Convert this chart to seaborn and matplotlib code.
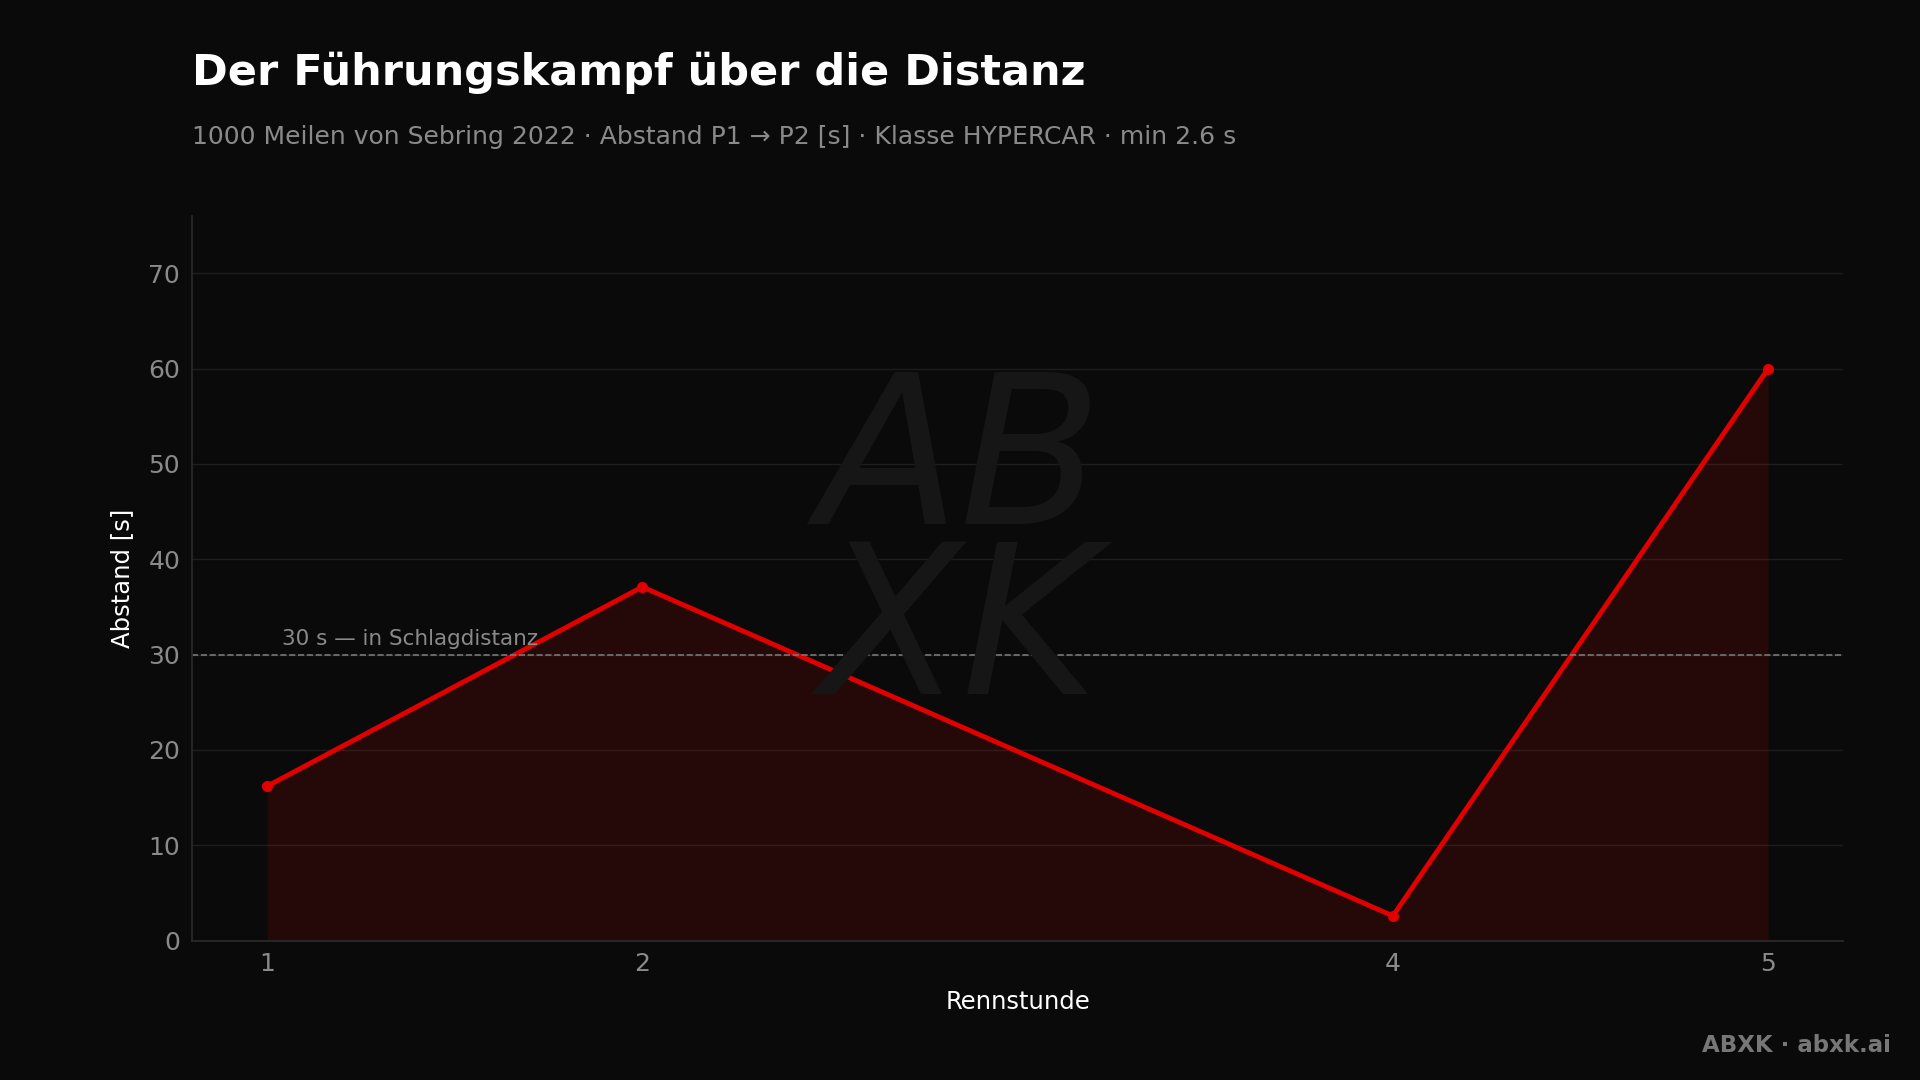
import matplotlib
matplotlib.use("Agg")
import matplotlib.pyplot as plt
import seaborn as sns
import pandas as pd

hours = [1, 2, 4, 5]
gap = [16.2, 37.1, 2.6, 60.0]
threshold = 30
df = pd.DataFrame({"Rennstunde": hours, "Abstand": gap})

sns.set_theme(style="dark")
plt.rcParams["font.family"] = ["DejaVu Sans"]

bg = "#0a0a0a"
fig = plt.figure(figsize=(19.2, 10.8), dpi=100, facecolor=bg)
ax = fig.add_axes([0.100, 0.129, 0.860, 0.671], facecolor=bg)

# watermark
fig.text(0.50, 0.49, "AB\nXK", fontsize=150, color="#161616", style="italic",
         ha="center", va="center", linespacing=0.8, zorder=0)

ax.fill_between(df["Rennstunde"], df["Abstand"], color="#e00000", alpha=0.13, lw=0)
sns.lineplot(data=df, x="Rennstunde", y="Abstand", ax=ax, color="#e00000",
             linewidth=3.5, marker="o", markersize=8, markeredgewidth=0)
ax.axhline(threshold, color="#777777", lw=1.2, ls="--")
ax.text(1.04, threshold + 0.6, "30 s — in Schlagdistanz", color="#8a8a8a",
        fontsize=15.5, va="bottom")

ax.set_xlim(0.8, 5.2)
ax.set_ylim(0, 76)
ax.set_xticks(hours)
ax.set_yticks(range(0, 71, 10))
ax.grid(axis="y", color="#1e1e1e", lw=1)
ax.grid(axis="x", visible=False)
ax.tick_params(colors="#8a8a8a", labelsize=18, length=5, color="#444444")
for s in ["top", "right"]:
    ax.spines[s].set_visible(False)
for s in ["left", "bottom"]:
    ax.spines[s].set_color("#2a2a2a")
ax.set_xlabel("Rennstunde", color="#ffffff", fontsize=17.5, labelpad=10)
ax.set_ylabel("Abstand [s]", color="#ffffff", fontsize=17.5, labelpad=10)

fig.text(0.100, 0.933, "Der Führungskampf über die Distanz", color="#ffffff",
         fontsize=31, fontweight="bold", va="center")
fig.text(0.100, 0.873,
         "1000 Meilen von Sebring 2022 · Abstand P1 → P2 [s] · Klasse HYPERCAR · min 2.6 s",
         color="#8a8a8a", fontsize=18, va="center")
fig.text(0.985, 0.032, "ABXK · abxk.ai", color="#777777", fontsize=16.5,
         fontweight="bold", ha="right", va="center")

fig.savefig("out.png", dpi=100, facecolor=bg)
